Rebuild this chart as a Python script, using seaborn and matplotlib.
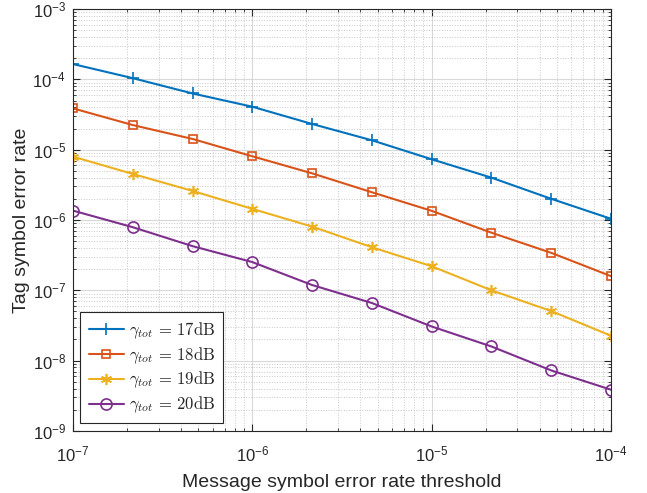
import numpy as np
import pandas as pd
import matplotlib
matplotlib.use("Agg")
import matplotlib.pyplot as plt
import seaborn as sns
from matplotlib.ticker import LogLocator, NullFormatter

x_vals = [1e-7, 2.154e-7, 4.642e-7, 1e-6, 2.154e-6, 4.642e-6, 1e-5, 2.154e-5, 4.642e-5, 1e-4]
y_17 = [1.65e-4, 1.04e-4, 6.3e-5, 4.08e-5, 2.32e-5, 1.36e-5, 7.3e-6, 4.0e-6, 2.0e-6, 1.04e-6]
y_18 = [3.87e-5, 2.24e-5, 1.42e-5, 8.05e-6, 4.61e-6, 2.48e-6, 1.35e-6, 6.6e-7, 3.41e-7, 1.59e-7]
y_19 = [7.96e-6, 4.52e-6, 2.59e-6, 1.44e-6, 8.06e-7, 4.1e-7, 2.2e-7, 1.0e-7, 5.07e-8, 2.26e-8]
y_20 = [1.36e-6, 7.9e-7, 4.25e-7, 2.52e-7, 1.19e-7, 6.6e-8, 3.06e-8, 1.59e-8, 7.26e-9, 3.86e-9]
labels = [r'$\gamma_{tot}\,=\,17\mathrm{dB}$', r'$\gamma_{tot}\,=\,18\mathrm{dB}$',
          r'$\gamma_{tot}\,=\,19\mathrm{dB}$', r'$\gamma_{tot}\,=\,20\mathrm{dB}$']

sns.set_style("ticks")
plt.rcParams['font.family'] = ['Liberation Sans', 'DejaVu Sans']
plt.rcParams['mathtext.fontset'] = 'cm'

colors = ['#0072BD', '#D95319', '#EDB120', '#7E2F8E']
markers = ['+', 's', (6, 2, 0), 'o']
msizes = [9, 6, 8, 8]
series = [y_17, y_18, y_19, y_20]

fig = plt.figure(figsize=(6.47, 4.93), dpi=100)
ax = fig.add_axes([0.1128, 0.1258, 0.8316, 0.8559])

for ys, lab, c, m, ms in zip(series, labels, colors, markers, msizes):
    df = pd.DataFrame({'x': x_vals, 'y': ys})
    sns.lineplot(data=df, x='x', y='y', ax=ax, color=c, marker=m, markersize=ms,
                 markerfacecolor='none', markeredgecolor=c, markeredgewidth=1.2,
                 linewidth=1.5, label=lab)

ax.set_xscale('log')
ax.set_yscale('log')
ax.set_xlim(1e-7, 1e-4)
ax.set_ylim(1e-9, 1e-3)
ax.set_xticks([1e-7, 1e-6, 1e-5, 1e-4])
ax.set_yticks([1e-9, 1e-8, 1e-7, 1e-6, 1e-5, 1e-4, 1e-3])
ax.set_xticklabels([r'$\mathregular{10^{-%d}}$' % k for k in [7, 6, 5, 4]])
ax.set_yticklabels([r'$\mathregular{10^{-%d}}$' % k for k in [9, 8, 7, 6, 5, 4, 3]])
ax.xaxis.set_minor_locator(LogLocator(base=10, subs=np.arange(2, 10), numticks=20))
ax.yaxis.set_minor_locator(LogLocator(base=10, subs=np.arange(2, 10), numticks=20))
ax.xaxis.set_minor_formatter(NullFormatter())
ax.yaxis.set_minor_formatter(NullFormatter())

ax.grid(which='major', color='#d9d9d9', linestyle='-', linewidth=0.8)
ax.grid(which='minor', color='#c8c8c8', linestyle=':', linewidth=0.7)
ax.set_axisbelow(True)

for s in ax.spines.values():
    s.set_visible(True)
    s.set_color('#262626')
    s.set_linewidth(0.8)
ax.tick_params(which='both', direction='in', top=True, right=True, colors='#262626',
               labelsize=12, labelcolor='#262626')
ax.tick_params(which='major', length=5)
ax.tick_params(which='minor', length=2.5)
ax.tick_params(axis='x', which='major', pad=10)
ax.tick_params(axis='y', which='major', pad=5)

ax.set_xlabel('Message symbol error rate threshold', fontsize=14, color='#262626', labelpad=7)
ax.set_ylabel('Tag symbol error rate', fontsize=14, color='#262626', labelpad=2)

leg = ax.legend(loc='lower left', fontsize=12, frameon=True, fancybox=False,
                edgecolor='#262626', framealpha=1, borderaxespad=0.45,
                handlelength=2.1, handletextpad=0.3, labelspacing=0.25, borderpad=0.5)
leg.get_frame().set_linewidth(0.8)

fig.savefig('out.png', dpi=100, facecolor='white')
